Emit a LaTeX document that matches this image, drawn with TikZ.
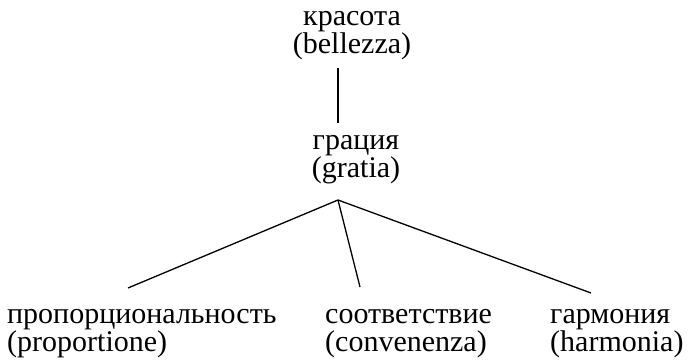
\documentclass[tikz,border=0pt]{standalone}
\usepackage{fontspec}
\setmainfont{Liberation Serif}
\newcommand\lblfontsetup{\fontsize{30}{28.5}\selectfont\lineskiplimit -100pt\relax}
\begin{document}
\begin{tikzpicture}[x=1pt,y=1pt,
  lbl/.style={inner sep=0pt,font=\lblfontsetup},
  conn/.style={line width=1.3pt}]
\useasboundingbox (0,0) rectangle (688,364);
\node[lbl,align=center,anchor=base] (kras) at (352,310) {красота\\(bellezza)};
\node[lbl,align=center,anchor=base] (grat) at (356,186) {грация\\(gratia)};
\node[lbl,align=left,anchor=base west] (prop) at (7,12) {пропорциональность\\(proportione)};
\node[lbl,align=left,anchor=base west] (conv) at (325,12) {соответствие\\(convenenza)};
\node[lbl,align=left,anchor=base west] (harm) at (550,12) {гармония\\(harmonia)};
\coordinate (v1) at (338,296);
\coordinate (v2) at (338,241);
\coordinate (apex) at (338,164);
\coordinate (e1) at (128,76);
\coordinate (e2) at (360,77);
\coordinate (e3) at (591,71);
\draw[conn] (v1) -- (v2);
\draw[conn] (apex) -- (e1);
\draw[conn] (apex) -- (e2);
\draw[conn] (apex) -- (e3);
\end{tikzpicture}
\end{document}
